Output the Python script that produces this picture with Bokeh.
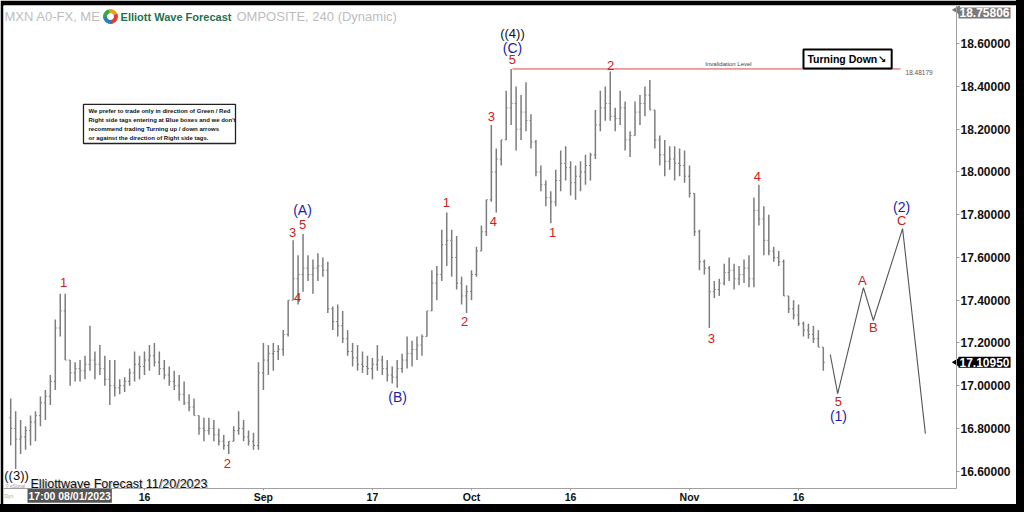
import math
from bokeh.plotting import figure
from bokeh.models import FixedTicker, PrintfTickFormatter, Label, Range1d
from bokeh.core.properties import value
from bokeh.embed import file_html
from bokeh.resources import INLINE

# ---------------- data (240-min MXN bars; 2 bars per session) ----------------
bar_high = [16.94, 16.88, 16.84, 16.81, 16.86, 16.88, 16.95, 16.98, 17.05, 17.31,
            17.43, 17.43, 17.12, 17.11, 17.12, 17.14, 17.28, 17.16, 17.19, 17.14,
            17.12, 17.12, 17.03, 17.04, 17.08, 17.16, 17.14, 17.16, 17.19, 17.20,
            17.16, 17.12, 17.09, 17.07, 17.05, 17.02, 16.96, 16.94, 16.86, 16.85,
            16.85, 16.84, 16.80, 16.77, 16.74, 16.81, 16.88, 16.84, 16.79, 16.78,
            17.11, 17.20, 17.19, 17.20, 17.19, 17.26, 17.40, 17.68, 17.61, 17.71,
            17.61, 17.59, 17.62, 17.60, 17.58, 17.37, 17.38, 17.35, 17.26, 17.20,
            17.19, 17.16, 17.14, 17.13, 17.19, 17.14, 17.12, 17.09, 17.12, 17.15,
            17.23, 17.21, 17.23, 17.24, 17.35, 17.54, 17.56, 17.73, 17.81, 17.73,
            17.70, 17.51, 17.47, 17.54, 17.65, 17.75, 17.87, 18.22, 18.11, 18.15,
            18.38, 18.482, 18.40, 18.36, 18.42, 18.27, 18.15, 18.03, 17.96, 17.91,
            18.01, 18.10, 18.12, 18.05, 18.03, 18.05, 18.08, 18.09, 18.29, 18.38,
            18.40, 18.47, 18.30, 18.38, 18.33, 18.19, 18.33, 18.36, 18.40, 18.43,
            18.29, 18.17, 18.15, 18.12, 18.12, 18.11, 18.10, 18.03, 17.90, 17.73,
            17.59, 17.56, 17.49, 17.50, 17.57, 17.60, 17.57, 17.56, 17.59, 17.61,
            17.88, 17.94, 17.84, 17.80, 17.65, 17.63, 17.59, 17.42, 17.40, 17.38,
            17.30, 17.29, 17.28, 17.26, 17.18]
bar_low = [16.72, 16.61, 16.68, 16.70, 16.72, 16.74, 16.81, 16.84, 16.91, 16.98,
           17.23, 17.12, 17.00, 17.02, 17.02, 17.03, 17.07, 17.03, 17.05, 17.00,
           16.91, 16.95, 16.96, 16.97, 17.00, 17.02, 17.03, 17.05, 17.07, 17.09,
           17.05, 17.03, 17.00, 16.98, 16.93, 16.91, 16.88, 16.86, 16.77, 16.74,
           16.77, 16.74, 16.72, 16.70, 16.68, 16.74, 16.77, 16.74, 16.72, 16.70,
           16.70, 16.98, 17.05, 17.07, 17.12, 17.14, 17.23, 17.40, 17.38, 17.44,
           17.49, 17.43, 17.49, 17.51, 17.34, 17.26, 17.23, 17.20, 17.14, 17.09,
           17.07, 17.06, 17.05, 17.03, 17.07, 17.05, 17.02, 17.01, 16.99, 17.06,
           17.08, 17.09, 17.12, 17.14, 17.23, 17.35, 17.40, 17.49, 17.56, 17.51,
           17.45, 17.38, 17.34, 17.40, 17.51, 17.63, 17.70, 17.86, 17.81, 18.03,
           18.15, 18.22, 18.10, 18.15, 18.19, 18.11, 17.98, 17.91, 17.84, 17.76,
           17.84, 17.91, 17.96, 17.89, 17.87, 17.91, 17.94, 17.96, 18.06, 18.19,
           18.24, 18.24, 18.19, 18.22, 18.10, 18.07, 18.17, 18.22, 18.26, 18.29,
           18.11, 18.03, 17.98, 18.01, 17.96, 17.98, 17.95, 17.88, 17.70, 17.54,
           17.52, 17.27, 17.41, 17.42, 17.47, 17.49, 17.45, 17.47, 17.48, 17.46,
           17.46, 17.75, 17.61, 17.61, 17.58, 17.56, 17.42, 17.34, 17.31, 17.28,
           17.23, 17.22, 17.20, 17.18, 17.07]
bar_close = [16.80, 16.75, 16.76, 16.79, 16.83, 16.86, 16.92, 16.95, 17.02, 17.27,
             17.35, 17.12, 17.06, 17.08, 17.07, 17.10, 17.12, 17.10, 17.08, 17.03,
             17.00, 16.99, 17.00, 17.02, 17.06, 17.10, 17.09, 17.12, 17.14, 17.11,
             17.08, 17.05, 17.02, 17.00, 16.96, 16.92, 16.90, 16.86, 16.80, 16.79,
             16.80, 16.77, 16.74, 16.72, 16.74, 16.79, 16.80, 16.76, 16.74, 16.72,
             17.06, 17.12, 17.15, 17.16, 17.17, 17.24, 17.40, 17.50, 17.52, 17.55,
             17.52, 17.55, 17.56, 17.54, 17.36, 17.30, 17.28, 17.22, 17.16, 17.13,
             17.10, 17.09, 17.08, 17.10, 17.12, 17.08, 17.05, 17.04, 17.08, 17.12,
             17.15, 17.17, 17.19, 17.23, 17.35, 17.48, 17.52, 17.66, 17.68, 17.60,
             17.48, 17.42, 17.44, 17.52, 17.63, 17.72, 17.87, 18.00, 18.06, 18.15,
             18.30, 18.32, 18.20, 18.28, 18.24, 18.14, 18.00, 17.94, 17.88, 17.86,
             17.96, 18.04, 18.02, 17.95, 17.98, 18.00, 18.03, 18.08, 18.22, 18.30,
             18.32, 18.26, 18.25, 18.30, 18.15, 18.17, 18.28, 18.32, 18.36, 18.29,
             18.15, 18.08, 18.05, 18.06, 18.04, 18.03, 17.98, 17.90, 17.72, 17.58,
             17.55, 17.44, 17.45, 17.48, 17.53, 17.54, 17.50, 17.52, 17.55, 17.50,
             17.82, 17.78, 17.68, 17.63, 17.60, 17.58, 17.42, 17.36, 17.33, 17.29,
             17.26, 17.24, 17.22, 17.18, 17.1095]
first_open = 16.85

date_tick_bars = [27, 51, 73, 93, 113, 137, 159]
date_tick_labels = ["16", "Sep", "17", "Oct", "16", "Nov", "16"]
price_ticks = [16.6, 16.8, 17.0, 17.2, 17.4, 17.6, 17.8, 18.0, 18.2, 18.4, 18.6]

last_price = 17.1095
top_price = 18.75806
invalidation_level = 18.48179

# projected path
proj_bar = [165.4, 166.9, 172.1, 174.1, 180.0, 184.6]
proj_price = [17.146, 16.963, 17.459, 17.305, 17.735, 16.776]

# wave labels
red_text = ["1", "2", "3", "4", "5", "1", "2", "3", "4", "5", "1", "2", "3", "4", "5", "A", "B", "C"]
red_bar = [10.66, 43.75, 56.9, 57.88, 58.89, 87.95, 91.6, 97.03, 97.43, 101.27, 109.35, 121.05,
           141.4, 150.7, 167.06, 171.9, 174.1, 179.8]
red_price = [17.482, 16.636, 17.717, 17.413, 17.754, 17.857, 17.300, 18.259, 17.768, 18.526,
             17.717, 18.498, 17.221, 17.979, 16.926, 17.492, 17.272, 17.773]
blue_text = ["(A)", "(B)", "(C)", "(1)", "(2)"]
blue_bar = [58.89, 78.1, 101.27, 167.06, 179.8]
blue_price = [17.820, 16.949, 18.582, 16.856, 17.834]
black_text = ["((4))"]
black_bar = [101.27]
black_price = [18.648]

note_lines = ["We prefer to trade only in direction of Green / Red",
              "Right side tags entering at Blue boxes and we don't",
              "recommend trading Turning up / down arrows",
              "or against the direction of Right side tags."]

# ---------------- figure ----------------
FONT = "Liberation Sans"
X0, X1 = -1.453, 202.99          # frame spans the whole canvas; axes sit at fixed locations
Y0, Y1 = 16.4442, 18.7787
AXIS_X = 190.88                  # price axis position (bar units)
AXIS_Y = 16.519                  # date axis position (price units)

p = figure(width=1016, height=504, x_range=Range1d(X0, X1), y_range=Range1d(Y0, Y1),
           y_axis_location="right", output_backend="svg", toolbar_location=None,
           min_border_left=3, min_border_top=5, min_border_right=0, min_border_bottom=0)
p.styles = {"outline": "8px solid black"}
p.background_fill_color = "white"
p.border_fill_color = "black"
p.outline_line_color = None
p.xgrid.visible = False
p.ygrid.visible = False

idx = list(range(len(bar_high)))
opens = [first_open] + bar_close[:-1]
bar_col = "#7d7d7d"
p.segment(x0=idx, y0=bar_low, x1=idx, y1=bar_high, line_color=bar_col, line_width=1.5)
p.segment(x0=[i - 0.3 for i in idx], y0=opens, x1=idx, y1=opens, line_color=bar_col, line_width=1)
p.segment(x0=idx, y0=bar_close, x1=[i + 0.3 for i in idx], y1=bar_close, line_color=bar_col, line_width=1)

# projection
p.line(proj_bar, proj_price, line_color="#555555", line_width=1.1)

# invalidation
p.segment(x0=[101.27], y0=[invalidation_level], x1=[179.58], y1=[invalidation_level], line_color="#d44", line_width=1)
p.text(x=[144.86], y=[18.507], text=["Invalidation Level"], text_font=value(FONT), text_font_size="6px",
       text_color="#444444", text_align="center", text_baseline="middle")
p.text(x=[180.6], y=[18.465], text=[f"{invalidation_level:.5f}"], text_font=value(FONT), text_font_size="6.5px",
       text_color="#555555", text_align="left", text_baseline="middle")

# turning down badge
p.quad(left=[160.0], right=[177.8], top=[18.573], bottom=[18.484], fill_color="white",
       line_color="black", line_width=2)
p.text(x=[160.8], y=[18.528], text=["Turning Down"], text_font=value(FONT), text_font_size="10.5px",
       text_font_style="bold", text_color="black", text_align="left", text_baseline="middle")
p.text(x=[175.9], y=[18.528], text=["\u2198"], text_font=value("DejaVu Sans"), text_font_size="10px",
       text_font_style="bold", text_color="black", text_align="center", text_baseline="middle")

# note box
p.quad(left=[14.69], right=[45.37], top=[18.316], bottom=[18.133], fill_color="white",
       line_color="#222222", line_width=1.3)
p.text(x=[15.7] * 4, y=[18.287, 18.245, 18.203, 18.161], text=note_lines, text_font=value(FONT),
       text_font_size="6px", text_font_style="bold", text_color="#111111", text_align="left",
       text_baseline="middle")

# wave labels
p.text(x=red_bar, y=red_price, text=red_text, text_font=value(FONT), text_font_size="13px",
       text_color="#cc2020", text_align="center", text_baseline="middle")
p.text(x=blue_bar, y=blue_price, text=blue_text, text_font=value(FONT), text_font_size="14px",
       text_color="#1c1ca8", text_align="center", text_baseline="middle")
p.text(x=black_bar, y=black_price, text=black_text, text_font=value(FONT), text_font_size="13px",
       text_color="#111111", text_align="center", text_baseline="middle")
p.text(x=[-1.3], y=[16.578], text=["((3))"], text_font=value(FONT), text_font_size="13px",
       text_color="#111111", text_align="left", text_baseline="middle")

# header
p.add_layout(Label(x=-1.25, y=18.727, text="MXN A0-FX, ME", text_font=FONT, text_font_size="13px",
                   text_color="#bdbdbd", text_baseline="middle"))
p.wedge(x=[20.14] * 4, y=[18.727] * 4, radius=7, radius_units="screen",
        start_angle=[0.3, 1.9, 3.4, 4.9], end_angle=[1.9, 3.4, 4.9, 6.58],
        color=["#e8a21f", "#3aa648", "#2a7fc1", "#e03c31"])
p.scatter(x=[20.14], y=[18.727], size=6, color="white")
p.add_layout(Label(x=22.18, y=18.727, text="Elliott Wave Forecast", text_font=FONT, text_font_size="11px",
                   text_font_style="bold", text_color="#1d7150", text_baseline="middle"))
p.add_layout(Label(x=45.57, y=18.727, text="OMPOSITE, 240 (Dynamic)", text_font=FONT, text_font_size="13px",
                   text_color="#bdbdbd", text_baseline="middle"))

# footer
p.add_layout(Label(x=4.0, y=16.542, x_offset=1, y_offset=-1, text="Elliottwave Forecast  11/20/2023",
                   text_font=FONT, text_font_size="12.5px", text_color="#bbbbbb", text_baseline="middle"))
p.add_layout(Label(x=4.0, y=16.542, text="Elliottwave Forecast  11/20/2023",
                   text_font=FONT, text_font_size="12.5px", text_color="#111111", text_baseline="middle"))
p.add_layout(Label(x=-1.05, y=16.528, text="\u00a9 eSignal", text_font=FONT, text_font_size="4.5px",
                   text_color="#999999", text_baseline="middle"))
p.add_layout(Label(x=-1.25, y=16.485, text="Dyn", text_font=FONT, text_font_size="5px",
                   text_color="#aaaaaa", text_baseline="middle"))
p.add_layout(Label(x=3.39, y=16.485, text="17:00 08/01/2023", text_font=FONT, text_font_size="10.5px",
                   text_font_style="bold", text_color="white", text_baseline="middle",
                   background_fill_color="#555555", padding=1))

# price markers in the axis
p.scatter(x=[191.0, 191.0], y=[top_price, last_price], marker="triangle", angle=math.pi / 2,
          size=8, color=["#7a7a7a", "#000000"])
p.add_layout(Label(x=191.28, y=top_price, y_offset=-3, text=f"{top_price:.5f}", text_font=FONT,
                   text_font_size="12px", text_font_style="bold", text_color="white", text_baseline="middle",
                   background_fill_color="#7a7a7a", padding=1))
p.add_layout(Label(x=191.28, y=last_price, text=f"{last_price:.5f}", text_font=FONT, text_font_size="12px",
                   text_font_style="bold", text_color="white", text_baseline="middle",
                   background_fill_color="#000000", padding=1))

# axes (library axes, pinned inside the frame)
xa = p.xaxis[0]
xa.fixed_location = AXIS_Y
xa.bounds = (X0, AXIS_X)
xa.ticker = FixedTicker(ticks=date_tick_bars)
xa.major_label_overrides = dict(zip(date_tick_bars, date_tick_labels))
xa.major_label_text_font = FONT
xa.major_label_text_font_size = "10.5px"
xa.major_label_text_font_style = "bold"
xa.major_label_text_color = "#111111"
xa.major_tick_in = 0
xa.major_tick_out = 2
xa.minor_tick_line_color = None
xa.major_label_standoff = 0
xa.axis_line_color = "#a0a0a0"
xa.major_tick_line_color = "#a0a0a0"

ya = p.yaxis[0]
ya.fixed_location = AXIS_X
ya.bounds = (AXIS_Y, Y1)
ya.ticker = FixedTicker(ticks=price_ticks)
ya.formatter = PrintfTickFormatter(format="%.5f")
ya.major_label_text_font = FONT
ya.major_label_text_font_size = "12px"
ya.major_label_text_font_style = "bold"
ya.major_label_text_color = "#111111"
ya.major_tick_in = 0
ya.major_tick_out = 3
ya.minor_tick_line_color = None
ya.major_label_standoff = 1
ya.axis_line_color = "#a0a0a0"
ya.major_tick_line_color = "#a0a0a0"

open("out.html", "w").write(file_html(p, INLINE))
